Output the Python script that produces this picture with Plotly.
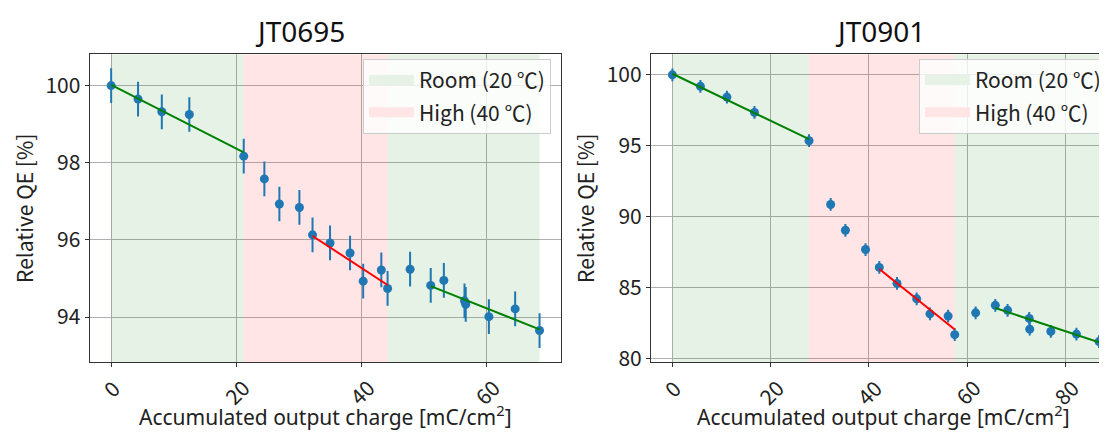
#importing
import plotly.graph_objects as go

# JT0695 data (left panel)
chargeLeft = [0, 4.3, 8.1, 12.5, 21.2, 24.5, 26.9, 30.1, 32.2, 35.0, 38.2, 40.3, 43.2, 44.2,
              47.8, 51.1, 53.2, 56.5, 56.7, 60.4, 64.6, 68.5]
qeLeft = [100.0, 99.65, 99.32, 99.25, 98.17, 97.58, 96.93, 96.84, 96.13, 95.92, 95.66, 94.93, 95.22, 94.74,
          95.24, 94.82, 94.95, 94.42, 94.33, 94.01, 94.21, 93.65]
errLeft = [0.45] * len(qeLeft)

# fit segments (x start, x end, y start, y end)
fitLeftRoom1 = [[0, 21.2], [100.02, 98.27]]
fitLeftHigh = [[32.2, 44.2], [96.10, 94.83]]
fitLeftRoom2 = [[51.1, 68.5], [94.80, 93.68]]

# temperature periods
roomLeft = [[0, 21.2], [44.2, 68.5]]
highLeft = [[21.2, 44.2]]

# JT0901 data (right panel)
chargeRight = [0, 5.7, 11.1, 16.7, 27.8, 32.2, 35.2, 39.3, 42.1, 45.7, 49.7, 52.4, 56.1, 57.45,
               61.7, 65.7, 68.2, 72.6, 72.7, 77.0, 82.2, 86.8]
qeRight = [100.0, 99.19, 98.43, 97.35, 95.35, 90.85, 89.03, 87.67, 86.41, 85.28, 84.19, 83.13, 82.97, 81.66,
           83.20, 83.73, 83.38, 82.81, 82.05, 81.89, 81.70, 81.17]
errRight = [0.45] * len(qeRight)

fitRightRoom1 = [[0, 27.8], [100.08, 95.46]]
fitRightHigh = [[42.1, 57.45], [86.30, 82.02]]
fitRightRoom2 = [[65.7, 86.8], [83.54, 81.12]]

roomRight = [[0, 27.8], [57.45, 86.8]]
highRight = [[27.8, 57.45]]

# axes
xRangeLeft = [-3.43, 71.93]
yRangeLeft = [92.83, 100.81]
xRangeRight = [-4.35, 90.05]
yRangeRight = [79.72, 101.45]
xTicksLeft = [0, 20, 40, 60]
yTicksLeft = [94, 96, 98, 100]
xTicksRight = [0, 20, 40, 60, 80]
yTicksRight = [80, 85, 90, 95, 100]

titles = ["JT0695", "JT0901"]
xTitle = "Accumulated output charge [mC/cm<sup>2</sup>]"
yTitle = "Relative QE [%]"
roomName = "Room (20 ℃)"
highName = "High (40 ℃)"

W, H = 1107, 432
font = "Noto Sans CJK JP"
blue = "#1f77b4"
roomFill = "rgba(0,128,0,0.1)"
highFill = "rgba(255,0,0,0.1)"


def bandPath(spans, yRange):
    xs, ys = [], []
    for a, b in spans:
        xs += [a, b, b, a, a, None]
        ys += [yRange[0], yRange[0], yRange[1], yRange[1], yRange[0], None]
    return xs, ys


figure = go.Figure()

panels = [
    ("x", "y", "legend", chargeLeft, qeLeft, errLeft, [fitLeftRoom1, fitLeftHigh, fitLeftRoom2], roomLeft, highLeft, yRangeLeft),
    ("x2", "y2", "legend2", chargeRight, qeRight, errRight, [fitRightRoom1, fitRightHigh, fitRightRoom2], roomRight, highRight, yRangeRight),
]

for xa, ya, leg, xs, ys, es, fits, room, high, yr in panels:
    #background bands
    bx, by = bandPath(room, yr)
    figure.add_trace(go.Scatter(x=bx, y=by, xaxis=xa, yaxis=ya, fill="toself", fillcolor=roomFill,
                                mode="none", showlegend=False, hoverinfo="skip"))
    bx, by = bandPath(high, yr)
    figure.add_trace(go.Scatter(x=bx, y=by, xaxis=xa, yaxis=ya, fill="toself", fillcolor=highFill,
                                mode="none", showlegend=False, hoverinfo="skip"))
    #legend patches
    figure.add_trace(go.Scatter(x=[None], y=[None], xaxis=xa, yaxis=ya, mode="lines", name=roomName,
                                line=dict(color="#e5f2e5", width=14), legend=leg, legendgroup=leg + "room"))
    figure.add_trace(go.Scatter(x=[None], y=[None], xaxis=xa, yaxis=ya, mode="lines", name=highName,
                                line=dict(color="#ffe5e5", width=14), legend=leg, legendgroup=leg + "high"))
    #measurements
    figure.add_trace(go.Scatter(x=xs, y=ys, xaxis=xa, yaxis=ya, mode="markers",
                                marker=dict(color=blue, size=9),
                                error_y=dict(type="data", array=es, color=blue, thickness=2, width=0),
                                showlegend=False))
    #fits
    for k, f in enumerate(fits):
        figure.add_trace(go.Scatter(x=f[0], y=f[1], xaxis=xa, yaxis=ya, mode="lines",
                                    line=dict(color="red" if k == 1 else "green", width=2),
                                    showlegend=False))

axisCommon = dict(showgrid=True, gridcolor="#b0b0b0", gridwidth=1, zeroline=False,
                  ticks="outside", ticklen=4, tickcolor="#333", showline=True,
                  linecolor="#333", linewidth=1.2)
yTop = 1 - 47.3 / H
yBottom = 1 - 361.7 / H
legendCommon = dict(xanchor="right", yanchor="top", bgcolor="rgba(255,255,255,0.8)",
                    bordercolor="#cccccc", borderwidth=1, font=dict(size=21), tracegroupgap=2, itemwidth=45)

figure.update_layout(
    width=W, height=H,
    margin=dict(l=0, r=0, t=0, b=0),
    paper_bgcolor="white", plot_bgcolor="white",
    font=dict(family=font, size=21, color="#222"),
    xaxis=dict(axisCommon, domain=[81.7 / W, 553 / W], range=xRangeLeft, tickvals=xTicksLeft,
               showticklabels=False, mirror=True, anchor="y"),
    yaxis=dict(axisCommon, domain=[yBottom, yTop], range=yRangeLeft, tickvals=yTicksLeft,
               mirror=True, anchor="x", title=dict(text=yTitle, font=dict(size=21), standoff=6)),
    xaxis2=dict(axisCommon, domain=[643 / W, 1.0], range=xRangeRight, tickvals=xTicksRight,
                showticklabels=False, mirror=True, anchor="y2"),
    yaxis2=dict(axisCommon, domain=[yBottom, yTop], range=yRangeRight, tickvals=yTicksRight,
                anchor="x2", title=dict(text=yTitle, font=dict(size=21), standoff=6)),
    legend=dict(legendCommon, x=543 / W, y=1 - 52 / H),
    legend2=dict(legendCommon, x=1099 / W, y=1 - 52 / H),
)

#rotated tick labels
for xa, ticks in [("x", xTicksLeft), ("x2", xTicksRight)]:
    for t in ticks:
        figure.add_annotation(x=t, y=0, xref=xa, yref=xa.replace("x", "y") + " domain", text=str(t),
                              textangle=-45, showarrow=False, xanchor="center", yanchor="top",
                              yshift=-8, font=dict(size=21))

#axis titles and panel titles
for xa in ["x", "x2"]:
    figure.add_annotation(x=0.5, y=1 - 416 / H, xref=xa + " domain", yref="paper", text=xTitle,
                          showarrow=False, xanchor="center", yanchor="middle",
                          font=dict(family="Noto Sans", size=21))
figure.add_annotation(x=292 / W, y=1 - 23 / H, xref="paper", yref="paper", text=titles[0],
                      showarrow=False, xanchor="center", yanchor="middle",
                      font=dict(family="Noto Sans", size=28, color="#111"))
figure.add_annotation(x=872 / W, y=1 - 23 / H, xref="paper", yref="paper", text=titles[1],
                      showarrow=False, xanchor="center", yanchor="middle",
                      font=dict(family="Noto Sans", size=28, color="#111"))

figure.write_html("out.html")
